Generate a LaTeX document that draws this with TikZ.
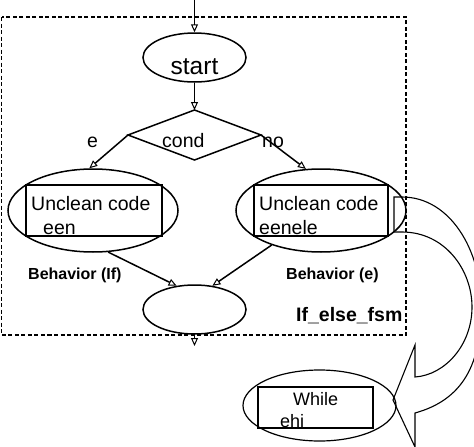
\documentclass[tikz,border=0pt]{standalone}
\usepackage{fontspec}
\setmainfont{Liberation Sans}
\usetikzlibrary{shapes.geometric,arrows.meta}
\tikzset{
  ell/.style={draw, ellipse, line width=1.5pt, inner sep=0pt},
  box/.style={draw, rectangle, line width=1.3pt, inner sep=0pt},
  txt/.style={anchor=base west, inner sep=0pt, font=\fontsize{19.5}{20}\selectfont},
  lbl/.style={anchor=base west, inner sep=0pt, font=\fontsize{16}{16}\selectfont\bfseries},
  conn/.style={line width=1.5pt, -{Triangle[open, length=8pt, width=7pt, line width=1pt]}},
  frame/.style={line width=1.6pt, dash pattern=on 4pt off 2.5pt}
}
\begin{document}
\begin{tikzpicture}[x=1pt, y=-1pt]
\useasboundingbox (0,0) rectangle (474,447);
% frame
\draw[frame] (1.5,17) rectangle (406,335);
% nodes
\coordinate (in) at (194.5,0);
\node[ell, minimum width=103pt, minimum height=49pt] (start) at (194.5,57.5) {};
\node[anchor=base, inner sep=0pt, font=\fontsize{24.5}{25}\selectfont] (starttxt) at (194.5,74) {start};
% diamond
\coordinate (dT) at (194.5,110);
\coordinate (dL) at (128,135);
\coordinate (dR) at (261,135);
\coordinate (dB) at (194.5,160);
\draw[line width=1.5pt] (dT) -- (dR) -- (dB) -- (dL) -- cycle;
\node[txt] (condtxt) at (162,147) {cond};
\node[txt] (etxt) at (87,147) {e};
\node[txt] (notxt) at (262,147) {no};
% left behaviour
\node[ell, minimum width=170pt, minimum height=83pt] (lell) at (93,210.5) {};
\node[box, minimum width=136pt, minimum height=51pt] (lbox) at (94,210.5) {};
\node[txt] (l1) at (31,210) {Unclean code};
\node[txt] (l2) at (43,234) {een};
% right behaviour
\node[ell, minimum width=170pt, minimum height=83pt] (rell) at (321,210.5) {};
\node[box, minimum width=134pt, minimum height=51pt] (rbox) at (321,210.5) {};
\node[txt] (r1) at (259,210) {Unclean code};
\node[txt] (r2) at (259,234) {eenele};
% labels
\node[lbl] (bl) at (28,279) {Behavior (If)};
\node[lbl] (br) at (286,279) {Behavior (e)};
\node[lbl, font=\fontsize{19.5}{20}\selectfont\bfseries] (fsm) at (296,321) {If\_else\_fsm};
% bottom ellipse
\node[ell, minimum width=103pt, minimum height=49pt] (bell) at (194.5,309.5) {};
\coordinate (out) at (194.5,346);
% while
\node[ell, minimum width=153pt, minimum height=71pt, line width=1.2pt] (well) at (319.5,405.5) {};
\node[box, minimum width=115pt, minimum height=41pt, line width=1.1pt] (wbox) at (315.5,407.5) {};
\node[txt, font=\fontsize{18}{18}\selectfont] (w1) at (293,405) {While};
\node[txt, font=\fontsize{18}{18}\selectfont] (w2) at (280,427) {ehi};
% connectors
\draw[conn] (in) -- (start.north);
\draw[conn] (start.south) -- (dT);
\draw[conn] (dL) -- (lell.95);
\draw[conn] (dR) -- (rell.110);
\draw[conn] (lell.-70) -- (bell.127);
\draw[conn] (rell.-145) -- (bell.53);
\draw[conn] (bell.south) -- (out);
% block arrow
\draw[line width=1.1pt] (394,232) -- (394,197) -- (402,197)
  .. controls (450,197) and (481,250) .. (481,305)
  .. controls (482,365) and (462,400) .. (415,413)
  -- (415,447) -- (393,400) -- (415,345) -- (415,377)
  .. controls (445,375) and (472,345) .. (472,307)
  .. controls (472,270) and (445,232) .. (402,232) -- cycle;
\end{tikzpicture}
\end{document}
